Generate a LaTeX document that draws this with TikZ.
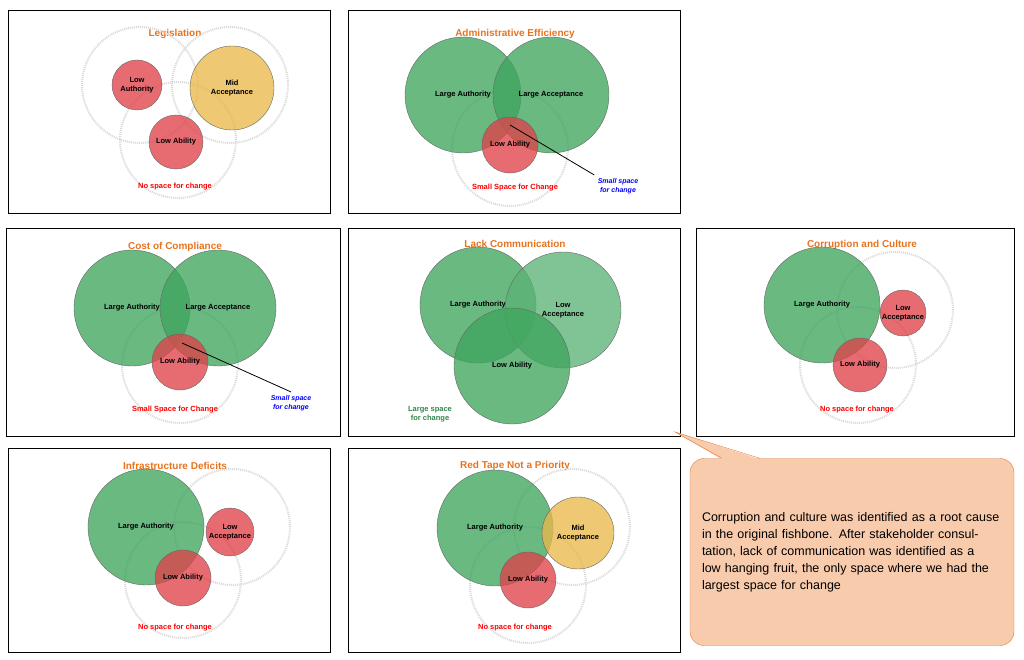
\documentclass[tikz,border=0pt]{standalone}
\usepackage{fontspec}
\setmainfont{Liberation Sans}
\usetikzlibrary{shapes,arrows,calc,positioning,backgrounds}
\definecolor{ttl}{HTML}{E8731F}
\definecolor{grn}{HTML}{3FA55E}
\definecolor{rd}{HTML}{E0424A}
\definecolor{ylw}{HTML}{E9B84A}
\definecolor{peach}{HTML}{F8CBAD}
\definecolor{edge}{HTML}{E07B39}
\begin{document}
\begin{tikzpicture}[x=1pt,y=-1pt,
          panel/.style={draw,thick},
          title/.style={text=ttl,font=\fontsize{10}{12}\selectfont\bfseries},
          lbl/.style={font=\fontsize{7.5}{9}\selectfont\bfseries,align=center},
          circ/.style={circle,draw=black!60,fill opacity=.78,text opacity=1,inner sep=0pt,lbl},
          big/.style={circ,fill=grn,minimum size=116pt},
          small/.style={circ,fill=rd,minimum size=#1},
          ghost/.style={circle,draw=black!15,dash pattern=on 1pt off 1pt,line width=2pt,minimum size=116pt},
          note/.style={font=\fontsize{7.5}{9}\selectfont\bfseries,align=center},
          blue/.style={text=blue,font=\fontsize{7}{8.5}\selectfont\bfseries\itshape,align=center}]
\useasboundingbox (0,0) rectangle (1024,660);

% Legislation
\draw[panel] (8,10) rectangle (330,213);
\node[title] (t1) at (175,34) {Legislation};
\node[ghost] at (140,85) {};
\node[ghost] at (230,85) {};
\node[ghost] at (178,140) {};
\node[small=50pt] (la1) at (137,85) {Low\\Authority};
\node[circ,fill=ylw,minimum size=84pt] (ma1) at (232,88) {Mid\\Acceptance};
\node[small=54pt] (lb1) at (176,142) {Low Ability};
\node[note,text=red] at (175,187) {No space for change};

% Administrative Efficiency
\draw[panel] (348,10) rectangle (680,213);
\node[title] (t2) at (515,34) {Administrative Efficiency};
\node[ghost] at (510,148) {};
\node[big] (la2) at (463,95) {Large Authority};
\node[big] (lc2) at (551,95) {Large Acceptance};
\node[small=56pt] (lb2) at (510,145) {Low Ability};
\node[note,text=red] at (515,188) {Small Space for Change};
\node[blue] (s2) at (618,186) {Small space\\for change};
\coordinate (p2) at (510,125);
\draw[blue,thick] (p2) -- (s2.north west);

% Cost of Compliance
\draw[panel] (6,228) rectangle (340,436);
\node[title] (t3) at (175,247) {Cost of Compliance};
\node[ghost] at (180,365) {};
\node[big] (la3) at (132,308) {Large Authority};
\node[big] (lc3) at (218,308) {Large Acceptance};
\node[small=56pt] (lb3) at (180,362) {Low Ability};
\node[note,text=red] at (175,410) {Small Space for Change};
\node[blue] (s3) at (291,403) {Small space\\for change};
\coordinate (p3) at (182,343);
\draw[blue,thick] (p3) -- (s3.north);

% Lack Communication
\draw[panel] (348,228) rectangle (680,436);
\node[title] (t4) at (515,244) {Lack Communication};
\node[big] (la4) at (478,305) {Large Authority};
\node[big,fill=grn!85] (lc4) at (563,310) {Low\\Acceptance};
\node[big] (lb4) at (512,366) {Low Ability};
\node[note,text=grn!80!black] at (430,414) {Large space\\for change};

% Corruption and Culture
\draw[panel] (696,228) rectangle (1014,436);
\node[title] (t5) at (862,245) {Corruption and Culture};
\node[ghost] at (895,310) {};
\node[ghost] at (858,365) {};
\node[big] (la5) at (822,305) {Large Authority};
\node[small=46pt] (lc5) at (903,313) {Low\\Acceptance};
\node[small=54pt] (lb5) at (860,365) {Low Ability};
\node[note,text=red] at (857,410) {No space for change};

% Infrastructure Deficits
\draw[panel] (8,448) rectangle (330,652);
\node[title] (t6) at (175,466) {Infrastructure Deficits};
\node[ghost] at (232,527) {};
\node[ghost] at (183,580) {};
\node[big] (la6) at (146,527) {Large Authority};
\node[small=48pt] (lc6) at (230,532) {Low\\Acceptance};
\node[small=56pt] (lb6) at (183,578) {Low Ability};
\node[note,text=red] at (175,628) {No space for change};

% Red Tape Not a Priority
\draw[panel] (348,448) rectangle (680,652);
\node[title] (t7) at (515,466) {Red Tape Not a Priority};
\node[ghost] at (572,527) {};
\node[ghost] at (528,585) {};
\node[big] (la7) at (495,528) {Large Authority};
\node[circ,fill=ylw,minimum size=72pt] (ma7) at (578,533) {Mid\\Acceptance};
\node[small=56pt] (lb7) at (528,580) {Low Ability};
\node[note,text=red] at (515,628) {No space for change};

% callout
\node[draw=edge,fill=peach,rounded corners=14pt,minimum width=324pt,minimum height=187pt,
      text width=300pt,align=left,font=\fontsize{12.5}{17}\selectfont] (co) at (852,552)
  {Corruption and culture was identified as a root cause in the original fishbone. After stakeholder consultation, lack of communication was identified as a low hanging fruit, the only space where we had the largest space for change};
\coordinate (tip) at (675,432);
\fill[peach] ($(co.north west)+(32,1)$) -- (tip) -- ($(co.north west)+(70,1)$) -- cycle;
\draw[edge] ($(co.north west)+(32,0)$) -- (tip) -- ($(co.north west)+(70,0)$);
\end{tikzpicture}
\end{document}
